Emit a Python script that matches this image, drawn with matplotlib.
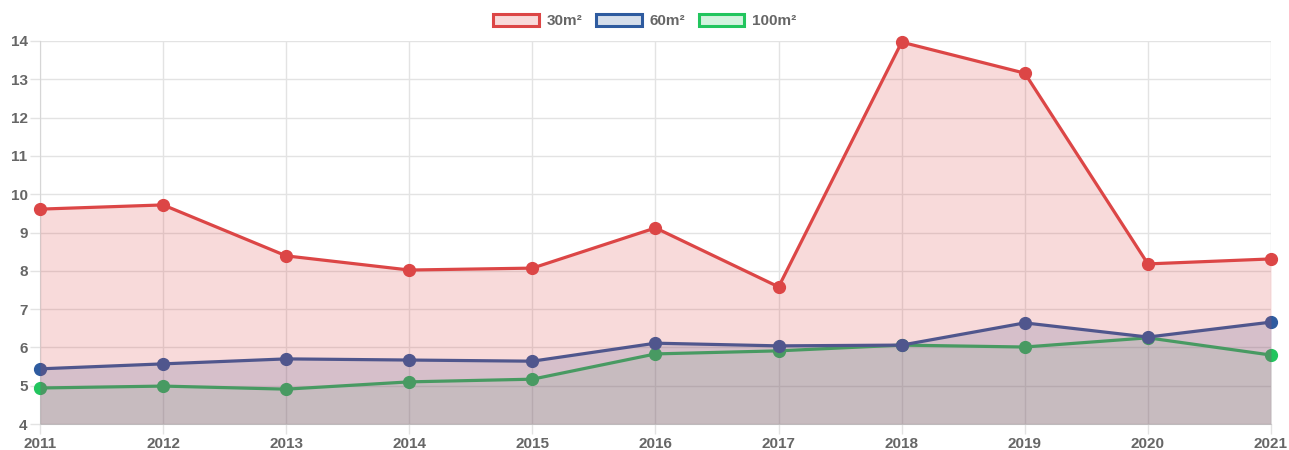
import matplotlib.pyplot as plt
from matplotlib.patches import Patch

years = [2011, 2012, 2013, 2014, 2015, 2016, 2017, 2018, 2019, 2020, 2021]
labels = ['30m²', '60m²', '100m²']
s30 = [9.61, 9.72, 8.39, 8.02, 8.07, 9.12, 7.58, 13.97, 13.16, 8.18, 8.31]
s60 = [5.44, 5.57, 5.70, 5.67, 5.64, 6.11, 6.04, 6.06, 6.64, 6.27, 6.66]
s100 = [4.94, 4.99, 4.91, 5.10, 5.17, 5.83, 5.91, 6.06, 6.01, 6.25, 5.80]

colors = ['#dc4646', '#2e5b9f', '#22c55e']
alphas = [0.2, 0.2, 0.1]
txt = '#666666'

plt.rcParams['font.family'] = ['Liberation Sans', 'DejaVu Sans']
plt.rcParams['font.weight'] = 'bold'
plt.rcParams['font.size'] = 11

fig = plt.figure(figsize=(12.89, 4.5), dpi=100)
ax = fig.add_axes([40 / 1289, 1 - 424 / 450, (1271 - 40) / 1289, (424 - 41) / 450])

series = [s30, s60, s100]
# chart.js draws the first dataset on top, so go in reverse
for i in [2, 1, 0]:
    z = 3 + (2 - i) * 3
    ax.fill_between(years, series[i], 4, color=colors[i], alpha=alphas[i], lw=0, zorder=z)
    ax.plot(years, series[i], color=colors[i], lw=2.3, zorder=z + 1)
    ax.plot(years, series[i], 'o', color=colors[i], ms=8.5, zorder=z + 2, clip_on=False)

ax.set_xlim(2011, 2021)
ax.set_ylim(4, 14)
ax.set_xticks(years)
ax.set_yticks(range(4, 15))
ax.grid(True, color='#e3e3e3', lw=1, zorder=0)
for s in ax.spines.values():
    s.set_visible(False)
ax.spines['left'].set_visible(True)
ax.spines['bottom'].set_visible(True)
ax.spines['left'].set_color('#d6d6d6')
ax.spines['bottom'].set_color('#d6d6d6')
ax.tick_params(colors='#e3e3e3', labelcolor=txt, length=7, width=1, labelsize=11)
ax.tick_params(axis='x', pad=2)
ax.tick_params(axis='y', pad=2)

handles = [Patch(facecolor=c + '33', edgecolor=c, linewidth=2.2, label=l)
           for c, l in zip(colors, labels)]
fig.legend(handles=handles, loc='center', bbox_to_anchor=(0.5, 1 - 21 / 450), ncol=3,
           frameon=False, handlelength=3.0, handleheight=0.9, handletextpad=0.5,
           columnspacing=0.9, labelcolor=txt, fontsize=11)

fig.savefig('out.png', dpi=100)
